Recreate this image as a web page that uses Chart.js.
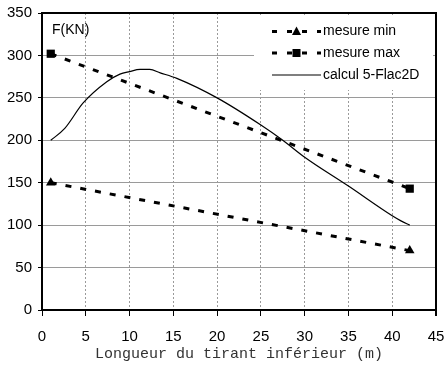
<!DOCTYPE html>
<html>
<head>
<meta charset="utf-8">
<script src="https://cdn.jsdelivr.net/npm/chart.js@4/dist/chart.umd.min.js"></script>
<style>
  html, body { margin: 0; padding: 0; background: #fff; }
  canvas { display: block; }
</style>
</head>
<body>
<canvas id="chart" width="445" height="368"></canvas>
<script>
// data
const minX = [1, 42];
const minY = [150, 70];
const maxX = [1, 42];
const maxY = [302, 143];
const calcX = [1, 2.6, 4.7, 7.4, 8.9, 10, 11.2, 12.3, 13.5, 15.4, 20, 25, 27.5, 30, 35, 40, 41, 42];
const calcY = [200, 214, 244, 269, 278, 281, 283.5, 283.5, 279.5, 273, 250, 218, 200, 180, 146, 111, 105, 100];
const seriesNames = ["mesure min", "mesure max", "calcul 5-Flac2D"];
const yLabel = "F(KN)";
const xLabel = "Longueur du tirant inférieur (m)";

const pts = (xs, ys) => xs.map((x, i) => ({ x, y: ys[i] }));
const SANS = '"Liberation Sans", Arial, sans-serif';

// legend + y label
const legendBox = {
  id: "legendBox",
  afterDatasetsDraw(chart) {
    const ctx = chart.ctx;
    const a = chart.chartArea;
    ctx.save();
    ctx.fillStyle = "#000";
    ctx.font = "14px " + SANS;
    ctx.textBaseline = "middle";
    ctx.fillText(yLabel, 52, 30);

    ctx.fillStyle = "#fff";
    ctx.fillRect(254, a.top + 3, 179, 90 - a.top - 3);
    const rows = [31.5, 53, 75];
    const x0 = 272, x1 = 321;
    rows.forEach((y, i) => {
      ctx.strokeStyle = "#000";
      ctx.beginPath();
      if (i < 2) {
        ctx.lineWidth = 3;
        ctx.setLineDash([5, 10]);
      } else {
        ctx.lineWidth = 1.2;
        ctx.setLineDash([]);
      }
      ctx.moveTo(x0, y);
      ctx.lineTo(x1, y);
      ctx.stroke();
      ctx.setLineDash([]);
      ctx.fillStyle = "#000";
      const mx = 296.5;
      if (i === 0) {
        ctx.beginPath();
        ctx.moveTo(mx, y - 5);
        ctx.lineTo(mx + 4.5, y + 3.5);
        ctx.lineTo(mx - 4.5, y + 3.5);
        ctx.closePath();
        ctx.fill();
      } else if (i === 1) {
        ctx.fillRect(mx - 4, y - 4, 8, 8);
      }
      ctx.font = "14px " + SANS;
      ctx.textBaseline = "middle";
      ctx.fillText(seriesNames[i], 323, y);
    });
    ctx.restore();
  }
};

// top + right border of the plot, drawn last
const plotFrame = {
  id: "plotFrame",
  afterDraw(chart) {
    const ctx = chart.ctx;
    const a = chart.chartArea;
    ctx.save();
    ctx.globalAlpha = 1;
    ctx.globalCompositeOperation = "source-over";
    ctx.setLineDash([]);
    ctx.fillStyle = "#000000";
    ctx.fillRect(Math.round(a.left), Math.round(a.top) - 1, Math.round(a.right - a.left) + 1, 2);
    ctx.fillRect(Math.round(a.right) - 1, Math.round(a.top) - 1, 2, Math.round(a.bottom - a.top) + 7);
    ctx.restore();
  }
};

new Chart(document.getElementById("chart"), {
  type: "line",
  data: {
    datasets: [
      {
        label: seriesNames[0],
        data: pts(minX, minY),
        borderColor: "#000",
        backgroundColor: "#000",
        borderWidth: 3,
        borderDash: [6, 9],
        pointStyle: "triangle",
        pointRadius: 5.5,
        pointBorderWidth: 0,
      },
      {
        label: seriesNames[1],
        data: pts(maxX, maxY),
        borderColor: "#000",
        backgroundColor: "#000",
        borderWidth: 3,
        borderDash: [6, 9],
        pointStyle: "rect",
        pointRadius: 5.8,
        pointBorderWidth: 0,
      },
      {
        label: seriesNames[2],
        data: pts(calcX, calcY),
        borderColor: "#000",
        borderWidth: 1.2,
        pointRadius: 0,
        cubicInterpolationMode: "monotone",
      },
    ],
  },
  options: {
    responsive: false,
    animation: false,
    layout: { padding: { top: 13, right: 0, left: 0, bottom: 0 } },
    plugins: { legend: { display: false }, tooltip: { enabled: false } },
    scales: {
      x: {
        type: "linear",
        min: 0, max: 45,
        afterFit: (s) => { s.height = 58; s.paddingRight = 9; s.paddingLeft = 0; },
        ticks: { stepSize: 5, color: "#000", font: { family: SANS, size: 15 }, padding: 12, maxRotation: 0 },
        grid: { color: "#9a9a9a", lineWidth: 1, tickColor: "#000", tickLength: 6 },
        border: { color: "#000", width: 2, dash: [2, 2] },
        title: {
          display: true, text: xLabel, color: "#333",
          font: { family: '"Liberation Mono", "Courier New", monospace', size: 15 },
          padding: { top: 0, bottom: 5 },
        },
      },
      y: {
        min: 0, max: 350,
        afterFit: (s) => { s.width = 42; s.paddingTop = 0; },
        ticks: { stepSize: 50, color: "#000", font: { family: SANS, size: 15 }, padding: 6 },
        grid: { color: "#9a9a9a", lineWidth: 1, tickColor: "#000", tickLength: 4 },
        border: { color: "#000", width: 2 },
      },
    },
  },
  plugins: [legendBox, plotFrame],
});
</script>
</body>
</html>
